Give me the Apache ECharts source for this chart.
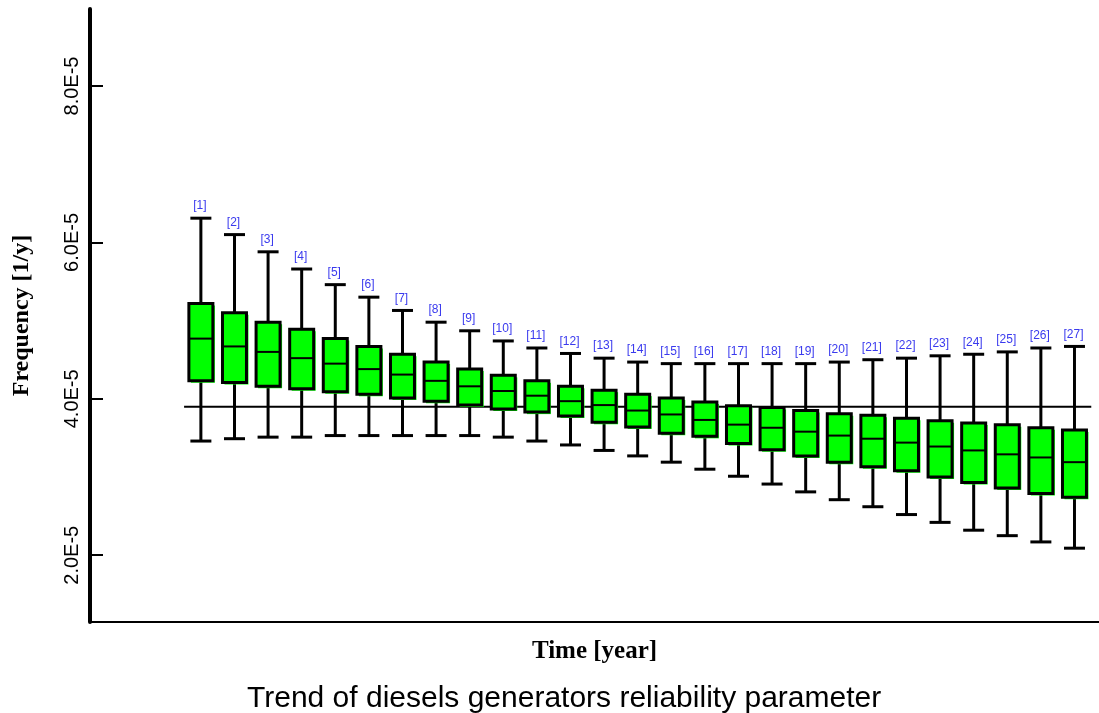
<!DOCTYPE html>
<html>
<head>
<meta charset="utf-8">
<script src="https://cdn.jsdelivr.net/npm/echarts@6/dist/echarts.min.js"></script>
<style>
html,body{margin:0;padding:0;background:#fff;}
#chart{width:1099px;height:713px;}
</style>
</head>
<body>
<div id="chart"></div>
<script>
// ---- data ----
const boxLabels = ["[1]","[2]","[3]","[4]","[5]","[6]","[7]","[8]","[9]","[10]","[11]","[12]","[13]","[14]","[15]","[16]","[17]","[18]","[19]","[20]","[21]","[22]","[23]","[24]","[25]","[26]","[27]"];
const positions = [1,2,3,4,5,6,7,8,9,10,11,12,13,14,15,16,17,18,19,20,21,22,23,24,25,26,27];
const minV = [3.46e-5,3.49e-5,3.51e-5,3.51e-5,3.53e-5,3.53e-5,3.53e-5,3.53e-5,3.53e-5,3.51e-5,3.46e-5,3.41e-5,3.34e-5,3.27e-5,3.19e-5,3.10e-5,3.01e-5,2.91e-5,2.81e-5,2.71e-5,2.62e-5,2.52e-5,2.42e-5,2.32e-5,2.25e-5,2.17e-5,2.09e-5];
const q1V  = [4.23e-5,4.21e-5,4.16e-5,4.13e-5,4.09e-5,4.06e-5,4.01e-5,3.97e-5,3.92e-5,3.87e-5,3.83e-5,3.78e-5,3.70e-5,3.64e-5,3.56e-5,3.52e-5,3.43e-5,3.35e-5,3.27e-5,3.19e-5,3.13e-5,3.08e-5,3.00e-5,2.93e-5,2.86e-5,2.79e-5,2.74e-5];
const medV = [4.77e-5,4.67e-5,4.60e-5,4.52e-5,4.45e-5,4.38e-5,4.31e-5,4.23e-5,4.16e-5,4.10e-5,4.04e-5,3.97e-5,3.92e-5,3.85e-5,3.80e-5,3.73e-5,3.67e-5,3.63e-5,3.58e-5,3.53e-5,3.49e-5,3.44e-5,3.39e-5,3.34e-5,3.29e-5,3.25e-5,3.19e-5];
const q3V  = [5.22e-5,5.10e-5,4.98e-5,4.89e-5,4.77e-5,4.67e-5,4.57e-5,4.47e-5,4.38e-5,4.30e-5,4.23e-5,4.16e-5,4.11e-5,4.06e-5,4.01e-5,3.96e-5,3.91e-5,3.89e-5,3.85e-5,3.81e-5,3.79e-5,3.75e-5,3.72e-5,3.69e-5,3.67e-5,3.63e-5,3.60e-5];
const maxV = [6.31e-5,6.10e-5,5.88e-5,5.66e-5,5.46e-5,5.30e-5,5.13e-5,4.98e-5,4.87e-5,4.74e-5,4.65e-5,4.58e-5,4.52e-5,4.47e-5,4.45e-5,4.45e-5,4.45e-5,4.45e-5,4.45e-5,4.47e-5,4.50e-5,4.52e-5,4.55e-5,4.57e-5,4.60e-5,4.65e-5,4.67e-5];
const refValue = 3.90e-5;
const refSpan = [0.5, 27.5];
const yTickValues = [2e-5, 4e-5, 6e-5, 8e-5];

const boxData = positions.map((p, i) => [p, minV[i], q1V[i], medV[i], q3V[i], maxV[i]]);

const chart = echarts.init(document.getElementById('chart'), null, {renderer: 'canvas'});

const option = {
  animation: false,
  backgroundColor: '#ffffff',
  title: {
    text: 'Trend of diesels generators reliability parameter',
    left: 242,
    top: 679,
    textStyle: {fontFamily: 'Liberation Sans', fontWeight: 'normal', fontSize: 30, color: '#000'}
  },
  grid: {left: 90, right: 0, top: 9, bottom: 91, containLabel: false, outerBoundsMode: 'none'},
  xAxis: {
    type: 'value',
    min: -2.30,
    max: 27.73,
    name: 'Time [year]',
    nameLocation: 'middle',
    nameGap: 17,
    nameTextStyle: {fontFamily: 'Liberation Serif', fontWeight: 'bold', fontSize: 25, color: '#000'},
    axisLine: {show: true, onZero: false, lineStyle: {color: '#000', width: 2}},
    axisTick: {show: false},
    axisLabel: {show: false},
    splitLine: {show: false}
  },
  yAxis: {
    type: 'value',
    min: 1.146e-5,
    max: 8.985e-5,
    name: 'Frequency [1/y]',
    nameLocation: 'middle',
    nameGap: 56,
    nameTextStyle: {fontFamily: 'Liberation Serif', fontWeight: 'bold', fontSize: 24, color: '#000'},
    axisLine: {show: true, onZero: false, lineStyle: {color: '#000', width: 4}},
    axisTick: {show: true, inside: true, length: 13, lineStyle: {color: '#000', width: 2}, customValues: yTickValues},
    axisLabel: {
      show: true, rotate: 90, margin: 8,
      fontFamily: 'Liberation Sans', fontSize: 20, color: '#000',
      customValues: yTickValues,
      formatter: v => v.toExponential(1).toUpperCase()
    },
    splitLine: {show: false}
  },
  series: [
    {
      type: 'line',
      z: 1,
      symbol: 'none',
      silent: true,
      data: [[refSpan[0], refValue], [refSpan[1], refValue]],
      lineStyle: {color: '#000', width: 2}
    },
    {
      type: 'custom',
      z: 2,
      encode: {x: 0, y: [1, 2, 3, 4, 5]},
      data: boxData,
      renderItem: function (params, api) {
        const x = api.value(0);
        const pMin = api.coord([x, api.value(1)]);
        const pQ1 = api.coord([x, api.value(2)]);
        const pMed = api.coord([x, api.value(3)]);
        const pQ3 = api.coord([x, api.value(4)]);
        const pMax = api.coord([x, api.value(5)]);
        const cx = pMin[0];
        const hw = 12;
        const cap = 10.5;
        return {
          type: 'group',
          children: [
            {type: 'line', shape: {x1: cx, y1: pMax[1], x2: cx, y2: pMin[1]}, style: {stroke: '#000', lineWidth: 3}},
            {type: 'line', shape: {x1: cx - cap, y1: pMax[1], x2: cx + cap, y2: pMax[1]}, style: {stroke: '#000', lineWidth: 3}},
            {type: 'line', shape: {x1: cx - cap, y1: pMin[1], x2: cx + cap, y2: pMin[1]}, style: {stroke: '#000', lineWidth: 3}},
            {type: 'rect', shape: {x: cx - hw + 2, y: pQ3[1] + 2, width: 2 * hw, height: pQ1[1] - pQ3[1]}, style: {fill: '#00ff00'}},
            {type: 'rect', shape: {x: cx - hw, y: pQ3[1], width: 2 * hw, height: pQ1[1] - pQ3[1]}, style: {fill: '#00ff00', stroke: '#000', lineWidth: 3}},
            {type: 'line', shape: {x1: cx - hw, y1: pMed[1], x2: cx + hw, y2: pMed[1]}, style: {stroke: '#000', lineWidth: 2}},
            {type: 'text', style: {text: boxLabels[params.dataIndex], x: cx - 1, y: pMax[1] - 6, align: 'center', verticalAlign: 'bottom', fill: '#3a3aee', fontSize: 12, fontFamily: 'Liberation Sans'}}
          ]
        };
      }
    }
  ]
};
chart.setOption(option);
</script>
</body>
</html>
